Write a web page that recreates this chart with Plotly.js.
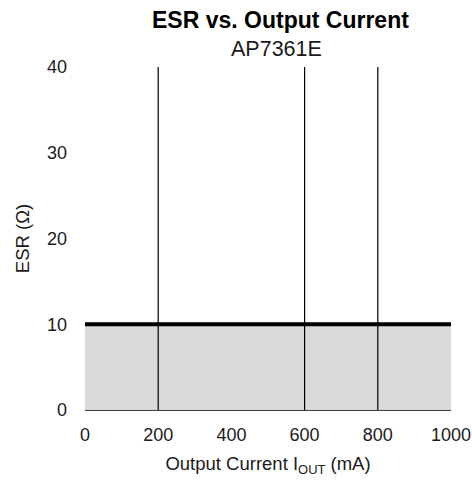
<!DOCTYPE html>
<html>
<head>
<meta charset="utf-8">
<script src="https://cdn.plot.ly/plotly-3.0.1.min.js"></script>
<style>html,body{margin:0;padding:0;background:#fff;}#chart{width:472px;height:483px;}</style>
</head>
<body>
<div id="chart"></div>
<script>
// Data
const currentRange = [0, 1000];          // mA, stable-region extent
const esrUpper = [10, 10];               // ohm, ESR upper limit across current range
const boundaryCurrents = [200, 600, 800]; // mA, vertical marker lines
const esrSpan = [0, 40];                  // ohm, vertical span of markers
const xTicks = [0, 200, 400, 600, 800, 1000];
const yTicks = [0, 10, 20, 30, 40];

const FONT = "Liberation Sans, Arial, sans-serif";
const TXT = '#1a1a1a';

const traces = [];
traces.push({
  x: currentRange, y: esrUpper, type: 'scatter', mode: 'lines',
  fill: 'tozeroy', fillcolor: '#d9d9d9',
  line: {color: '#000000', width: 4},
  hoverinfo: 'skip', showlegend: false
});
boundaryCurrents.forEach(c => {
  traces.push({
    x: [c, c], y: esrSpan, type: 'scatter', mode: 'lines',
    line: {color: '#000000', width: 1.2},
    hoverinfo: 'skip', showlegend: false
  });
});

const layout = {
  width: 472, height: 483,
  margin: {l: 85, r: 21, t: 67, b: 73, pad: 0},
  paper_bgcolor: '#ffffff', plot_bgcolor: '#ffffff',
  font: {family: FONT, size: 18, color: TXT},
  showlegend: false,
  xaxis: {
    range: [0, 1000], tickvals: xTicks, ticktext: xTicks.map(String),
    showgrid: false, zeroline: false, showline: true, linecolor: '#404040', linewidth: 1,
    ticks: '', ticklabelstandoff: 8,
    tickfont: {family: FONT, size: 18, color: TXT},
    title: {text: 'Output Current I<sub>OUT</sub> (mA)', standoff: 13,
            font: {family: FONT, size: 18.5, color: TXT}}
  },
  yaxis: {
    range: [0, 40], tickvals: yTicks, ticktext: yTicks.map(String),
    showgrid: false, zeroline: false, showline: false,
    ticks: '', ticklabelstandoff: 17,
    tickfont: {family: FONT, size: 18, color: TXT},
    title: {text: 'ESR (Ω)', standoff: 12,
            font: {family: FONT, size: 18.5, color: TXT}}
  },
  annotations: [
    {text: '<b>ESR vs. Output Current</b>', xref: 'paper', yref: 'paper',
     x: 0.535, y: 1 + (67 - 20) / 343, xanchor: 'center', yanchor: 'middle',
     showarrow: false, font: {family: FONT, size: 23, color: '#000000'}},
    {text: 'AP7361E', xref: 'paper', yref: 'paper',
     x: 0.522, y: 1 + (67 - 49) / 343, xanchor: 'center', yanchor: 'middle',
     showarrow: false, font: {family: FONT, size: 21.5, color: TXT}}
  ]
};

Plotly.newPlot('chart', traces, layout, {displayModeBar: false, staticPlot: true});
</script>
</body>
</html>
